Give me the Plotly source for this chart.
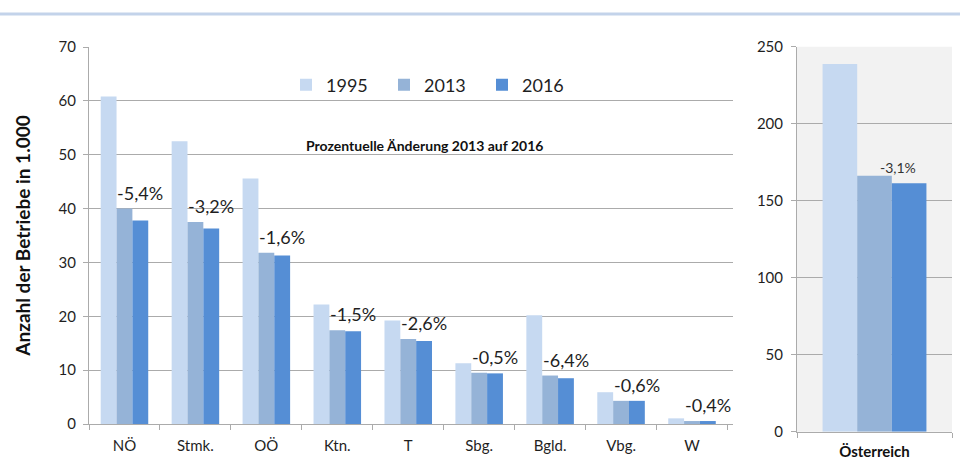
import plotly.graph_objects as go

regions = ["NÖ", "Stmk.", "OÖ", "Ktn.", "T", "Sbg.", "Bgld.", "Vbg.", "W"]
v1995 = [60.8, 52.5, 45.6, 22.2, 19.2, 11.3, 20.2, 5.9, 1.05]
v2013 = [40.0, 37.5, 31.8, 17.4, 15.8, 9.5, 9.0, 4.3, 0.55]
v2016 = [37.8, 36.3, 31.3, 17.2, 15.4, 9.4, 8.5, 4.3, 0.55]
pct = ["-5,4%", "-3,2%", "-1,6%", "-1,5%", "-2,6%", "-0,5%", "-6,4%", "-0,6%", "-0,4%"]

total_cat = ["Österreich"]
t1995 = [238.8]
t2013 = [166.2]
t2016 = [161.3]
t_pct = ["-3,1%"]

years = ["1995", "2013", "2016"]
colors = ["#c6d9f1", "#95b3d7", "#558ed5"]

FONT = "Lato"
TXT = "#1f1f1f"
GRID = "#ababab"

fig = go.Figure()
for yr, vals, tvals, col in zip(years, [v1995, v2013, v2016], [t1995, t2013, t2016], colors):
    fig.add_trace(go.Bar(x=regions, y=vals, name=yr, marker=dict(color=col, line=dict(width=0)),
                         xaxis="x", yaxis="y", legendgroup=yr))
    fig.add_trace(go.Bar(x=total_cat, y=tvals, name=yr, marker=dict(color=col, line=dict(width=0)),
                         xaxis="x2", yaxis="y2", legendgroup=yr, showlegend=False))

W, H = 960, 460
annotations = []
for r, v, p in zip(regions, v2013, pct):
    annotations.append(dict(x=r, y=v, xref="x", yref="y", text=p, showarrow=False,
                            xshift=16, yshift=3, yanchor="bottom",
                            font=dict(family=FONT, size=18, color=TXT)))
for r, v, p in zip(total_cat, t2013, t_pct):
    annotations.append(dict(x=r, y=v, xref="x2", yref="y2", text=p, showarrow=False,
                            xshift=23, yshift=-2, yanchor="bottom",
                            font=dict(family=FONT, size=14, color="#333")))
annotations.append(dict(x=424 / W, y=1 - 146 / H, xref="paper", yref="paper",
                        xanchor="center", yanchor="middle",
                        text="<b>Prozentuelle Änderung 2013 auf 2016</b>", showarrow=False,
                        font=dict(family=FONT, size=14, color="#111")))

fig.update_layout(
    width=W, height=H, autosize=False,
    margin=dict(l=0, r=0, t=0, b=0, pad=0, autoexpand=False),
    paper_bgcolor="white", plot_bgcolor="white",
    barmode="group", bargap=0.33, bargroupgap=0,
    font=dict(family=FONT, color=TXT),
    showlegend=True,
    legend=dict(orientation="h", x=286 / W, y=1 - 85 / H, xanchor="left", yanchor="middle",
                font=dict(family=FONT, size=18, color=TXT), entrywidth=53, entrywidthmode="pixels",
                bgcolor="rgba(0,0,0,0)", traceorder="normal"),
    xaxis=dict(domain=[89 / W, 733 / W], anchor="y", type="category", automargin=False,
               showline=True, linecolor=GRID, linewidth=1, ticks="outside", tickson="boundaries",
               ticklen=5, tickcolor=GRID, ticklabelstandoff=8,
               tickfont=dict(family=FONT, size=15, color=TXT), showgrid=False),
    yaxis=dict(domain=[1 - 424 / H, 1 - 47 / H], anchor="x", range=[0, 70], dtick=10, automargin=False,
               showline=True, linecolor=GRID, linewidth=1, ticks="outside", ticklen=5, tickcolor=GRID,
               ticklabelstandoff=4,
               showgrid=True, gridcolor=GRID, gridwidth=1, zeroline=False,
               tickfont=dict(family=FONT, size=15, color=TXT),
               title=dict(text="<b>Anzahl der Betriebe in 1.000</b>", standoff=22,
                          font=dict(family=FONT, size=19, color="#111"))),
    xaxis2=dict(domain=[797 / W, 952 / W], anchor="y2", type="category", automargin=False,
                showline=True, linecolor=GRID, linewidth=1, ticks="outside", tickson="boundaries",
                ticklen=5, tickcolor=GRID, ticklabelstandoff=6,
                tickfont=dict(family=FONT, size=15, color="#111"),
                tickvals=total_cat, ticktext=["<b>Österreich</b>"], showgrid=False),
    yaxis2=dict(domain=[1 - 431.7 / H, 1 - 46.7 / H], anchor="x2", range=[0, 250], dtick=50,
                automargin=False,
                showline=True, linecolor=GRID, linewidth=1, ticks="outside", ticklen=5, tickcolor=GRID,
                ticklabelstandoff=5,
                showgrid=True, gridcolor=GRID, gridwidth=1, zeroline=False,
                tickfont=dict(family=FONT, size=15, color=TXT)),
    annotations=annotations,
    shapes=[
        dict(type="rect", xref="x2 domain", yref="y2 domain", x0=0, x1=1, y0=0, y1=1,
             fillcolor="#f2f2f2", line=dict(width=0), layer="below"),
        dict(type="line", xref="paper", yref="paper", x0=0, x1=1, y0=1 - 14 / H, y1=1 - 14 / H,
             line=dict(color="#c3d3ea", width=3)),
    ],
)

post = (
    "document.documentElement.style.margin='0';document.body.style.margin='0';"
    "document.documentElement.style.overflow='hidden';document.body.style.overflow='hidden';"
    "var g=document.getElementsByClassName('plotly-graph-div')[0];"
    "g.style.position='absolute';g.style.left='0px';g.style.top='0px';"
)
fig.write_html("out.html", config={"responsive": False, "displayModeBar": False},
               post_script=post)
